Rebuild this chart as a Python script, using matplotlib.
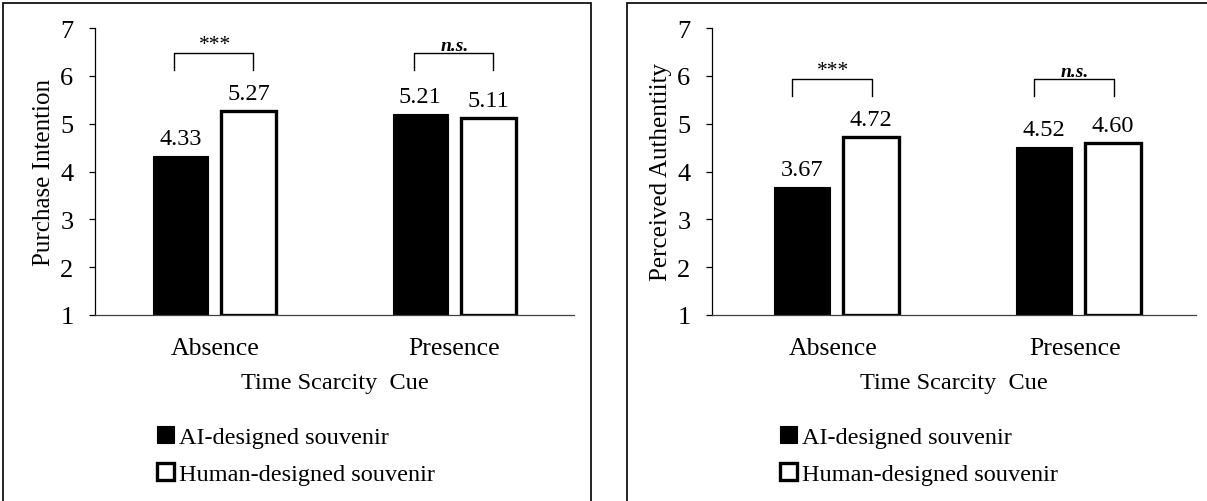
import matplotlib
matplotlib.use('Agg')
import matplotlib.pyplot as plt
import numpy as np
from matplotlib.patches import Rectangle

plt.rcParams['font.family'] = ['Liberation Serif', 'DejaVu Serif']

# data
cues = ['Absence', 'Presence']
purchase_ai = [4.33, 5.21]
purchase_human = [5.27, 5.11]
auth_ai = [3.67, 4.52]
auth_human = [4.72, 4.60]
sig_labels = ['***', 'n.s.']
series_names = ['AI-designed souvenir', 'Human-designed souvenir']

W, H = 1207, 502
fig = plt.figure(figsize=(W / 100, H / 100), dpi=100)

# panel frames
fig.patches.append(Rectangle((3 / W, -0.1), 588 / W, 1.1 - 4 / H, transform=fig.transFigure,
                             fill=False, edgecolor='black', linewidth=1.2))
fig.patches.append(Rectangle((627 / W, -0.1), 0.6, 1.1 - 4 / H, transform=fig.transFigure,
                             fill=False, edgecolor='black', linewidth=1.2))


def draw_panel(ax, ai_vals, human_vals, ylabel, legend_x, shift=0.0):
    x = np.arange(len(cues))
    w = 0.23
    b1 = ax.bar(x - 0.142 + shift, np.array(ai_vals) - 1, w, bottom=1, color='black',
                edgecolor='black', linewidth=0.8, label=series_names[0])
    b2 = ax.bar(x + 0.142 + shift, np.array(human_vals) - 1, w, bottom=1, color='white',
                edgecolor='black', linewidth=2.4, label=series_names[1])

    for bars, vals in ((b1, ai_vals), (b2, human_vals)):
        for rect, v in zip(bars, vals):
            ax.annotate(f'{v:.2f}', (rect.get_x() + rect.get_width() / 2, v),
                        xytext=(0, 5), textcoords='offset points',
                        ha='center', va='bottom', fontsize=17.5)

    # significance brackets
    y_low = max(max(ai_vals), max(human_vals)) + 0.85
    y_high = y_low + 0.36
    for i, lab in enumerate(sig_labels):
        ax.plot([i - 0.17, i - 0.17, i + 0.16, i + 0.16],
                [y_low, y_high, y_high, y_low], color='black', linewidth=1.0,
                clip_on=False)
        if lab == '***':
            ax.text(i, y_high - 0.02, lab, ha='center', va='bottom', fontsize=15.5)
        else:
            ax.text(i, y_high - 0.02, lab, ha='center', va='bottom', fontsize=14,
                    fontweight='bold', fontstyle='italic')

    ax.set_xlim(-0.5, 1.5)
    ax.set_ylim(1, 7)
    ax.set_yticks(range(1, 8))
    ax.set_xticks(x)
    ax.set_xticklabels(cues)
    ax.spines['top'].set_visible(False)
    ax.spines['right'].set_visible(False)
    ax.spines['left'].set_linewidth(0.9)
    ax.spines['bottom'].set_linewidth(0.9)
    ax.spines['bottom'].set_color('#404040')
    ax.tick_params(axis='y', direction='out', length=4.5, width=0.9, pad=11, labelsize=19)
    ax.tick_params(axis='x', length=0, pad=16, labelsize=18.5)
    ax.set_ylabel(ylabel, fontsize=18, labelpad=4)
    ax.set_xlabel('Time Scarcity  Cue', fontsize=17.5, labelpad=9)

    ax.legend(loc='upper left', bbox_to_anchor=(legend_x, 1 - 427 / H),
              bbox_transform=fig.transFigure, frameon=False, fontsize=17.5,
              handlelength=0.7, handleheight=0.7, handletextpad=0.2,
              labelspacing=0.63, borderpad=0, borderaxespad=0)


ax1 = fig.add_axes([95 / W, 1 - 316 / H, 479 / W, 287 / H])
ax2 = fig.add_axes([712 / W, 1 - 316 / H, 484 / W, 287 / H])

draw_panel(ax1, purchase_ai, purchase_human, 'Purchase Intention', 157 / W)
draw_panel(ax2, auth_ai, auth_human, 'Perceived Authentiity', 780 / W, shift=0.015)

fig.savefig('out.png', dpi=100)
